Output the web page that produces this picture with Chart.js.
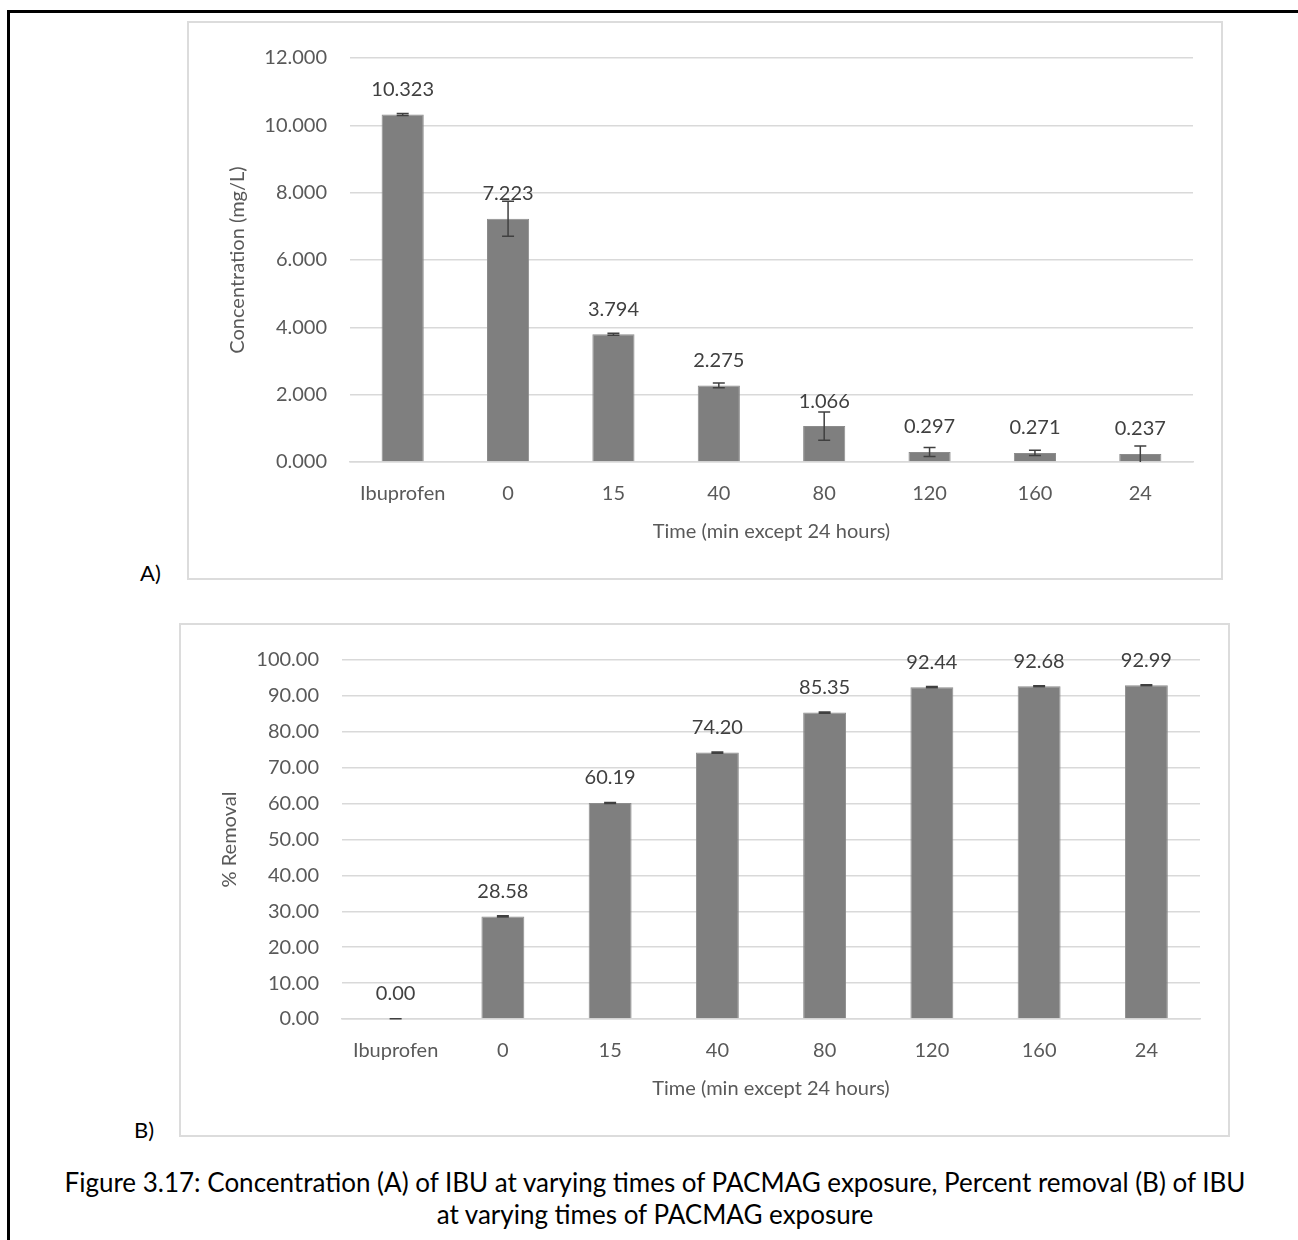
<!DOCTYPE html>
<html lang="en">
<head>
<meta charset="UTF-8">
<title>IBU removal with PACMAG</title>
<script src="https://cdn.jsdelivr.net/npm/chart.js"></script>
<style>
    html, body { margin: 0; padding: 0; background: #fff; overflow: hidden; }
    body { width: 1298px; height: 1240px; position: relative; font-family: Lato, "Open Sans", sans-serif; }
    .frame { position: absolute; left: 7px; top: 10px; width: 1400px; height: 1400px; border: 3px solid #000; }
    .box { position: absolute; border: 2px solid #dcdcdc; box-sizing: border-box; }
    .box canvas { position: absolute; left: 0; top: 0; }
    .tag { position: absolute; font-size: 22px; color: #000; }
    .caption { position: absolute; left: 0; width: 1310px; text-align: center; font-size: 26px; color: #000; line-height: 32px; }
</style>
</head>
<body>
<div class="frame"></div>

<div class="box" id="boxA" style="left:187px; top:21px; width:1036px; height:559px;">
    <canvas id="chartA" width="1032" height="555"></canvas>
</div>
<div class="tag" style="left:140px; top:559px;">A)</div>

<div class="box" id="boxB" style="left:179px; top:623px; width:1051px; height:514px;">
    <canvas id="chartB" width="1047" height="510"></canvas>
</div>
<div class="tag" style="left:134px; top:1116px;">B)</div>

<div class="caption" style="top:1166px;">Figure 3.17: Concentration (A) of IBU at varying times of PACMAG exposure, Percent removal (B) of IBU<br>at varying times of PACMAG exposure</div>

<script>
// categories shared by both panels
const times = ['Ibuprofen', '0', '15', '40', '80', '120', '160', '24'];

// panel A: concentration (mg/L) and error bar size
const concValues = [10.323, 7.223, 3.794, 2.275, 1.066, 0.297, 0.271, 0.237];
const concErrors = [0.03, 0.52, 0.03, 0.07, 0.42, 0.13, 0.08, 0.24];
const concTicks = [0, 2, 4, 6, 8, 10, 12];

// panel B: percent removal and error bar size
const removalValues = [0.00, 28.58, 60.19, 74.20, 85.35, 92.44, 92.68, 92.99];
const removalErrors = [0.1, 0.15, 0.15, 0.15, 0.15, 0.15, 0.15, 0.15];
const removalTicks = [0, 10, 20, 30, 40, 50, 60, 70, 80, 90, 100];

Chart.defaults.font.family = 'Lato, "Open Sans", sans-serif';
Chart.defaults.font.size = 20;
Chart.defaults.color = '#595959';

// error bars + value labels, drawn through the chart's own scales
const barExtras = {
    id: 'barExtras',
    afterDatasetsDraw(chart, args, opts) {
        const ctx = chart.ctx;
        const y = chart.scales.y;
        const meta = chart.getDatasetMeta(0);
        const vals = chart.data.datasets[0].data;
        ctx.save();
        meta.data.forEach((bar, i) => {
            const v = vals[i], e = opts.errors[i];
            const top = y.getPixelForValue(v + e);
            const bot = y.getPixelForValue(Math.max(v - e, 0));
            ctx.strokeStyle = '#404040';
            ctx.lineWidth = 1.5;
            ctx.beginPath();
            ctx.moveTo(bar.x, top); ctx.lineTo(bar.x, bot);
            ctx.moveTo(bar.x - 6, top); ctx.lineTo(bar.x + 6, top);
            if (v - e > 0) { ctx.moveTo(bar.x - 6, bot); ctx.lineTo(bar.x + 6, bot); }
            ctx.stroke();
            ctx.fillStyle = '#404040';
            ctx.font = '20px ' + Chart.defaults.font.family;
            ctx.textAlign = 'center';
            ctx.textBaseline = 'middle';
            ctx.fillText(v.toFixed(opts.digits), bar.x, y.getPixelForValue(v) - 25);
        });
        ctx.restore();
    }
};

function makeChart(id, values, errors, ticks, digits, yTitle, padTop) {
    return new Chart(document.getElementById(id), {
        type: 'bar',
        data: {
            labels: times,
            datasets: [{
                data: values,
                backgroundColor: '#7f7f7f',
                borderColor: '#8c8c8c',
                borderWidth: 1,
                barPercentage: 0.4,
                categoryPercentage: 1.0
            }]
        },
        options: {
            responsive: false,
            animation: false,
            layout: { padding: { top: padTop, right: 28, left: 0, bottom: 0 } },
            plugins: {
                legend: { display: false },
                tooltip: { enabled: false },
                barExtras: { errors: errors, digits: digits }
            },
            scales: {
                x: {
                    grid: { display: false, drawTicks: false },
                    border: { color: '#d9d9d9', width: 1.5 },
                    ticks: { padding: 20, color: '#595959' },
                    title: { display: true, text: 'Time (min except 24 hours)', color: '#595959', padding: { top: 0, bottom: 34 } },
                    afterFit: s => { s.height = 116; }
                },
                y: {
                    min: ticks[0],
                    max: ticks[ticks.length - 1],
                    afterBuildTicks: s => { s.ticks = ticks.map(v => ({ value: v })); },
                    grid: { color: '#d9d9d9', lineWidth: 1.5, drawTicks: false },
                    border: { display: false },
                    ticks: { padding: 23, color: '#595959', callback: v => Number(v).toFixed(digits) },
                    title: { display: true, text: yTitle, color: '#595959', padding: { top: 37, bottom: 0 } },
                    afterFit: s => { s.width = 161; }
                }
            }
        },
        plugins: [barExtras]
    });
}

makeChart('chartA', concValues, concErrors, concTicks, 3, 'Concentration (mg/L)', 28);
makeChart('chartB', removalValues, removalErrors, removalTicks, 2, '% Removal', 26);
</script>
</body>
</html>
